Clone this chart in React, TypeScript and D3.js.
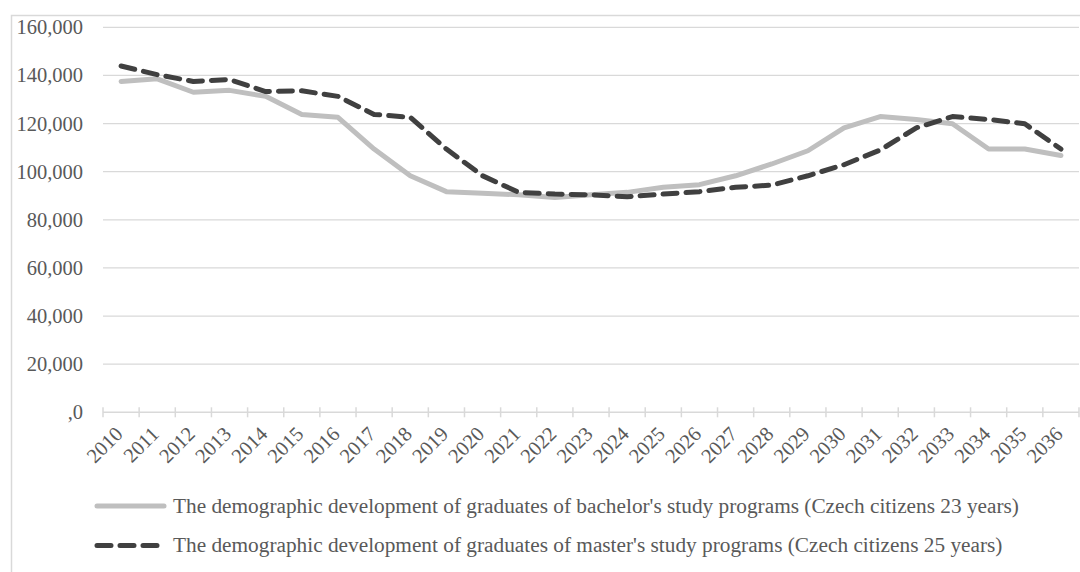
import React from "react";
import * as d3 from "d3";

const years = ["2010","2011","2012","2013","2014","2015","2016","2017","2018","2019","2020","2021","2022","2023","2024","2025","2026","2027","2028","2029","2030","2031","2032","2033","2034","2035","2036"];
const bachelor = [137500,138600,133000,133800,131300,123800,122600,109400,98300,91700,91000,90400,89300,90400,91400,93500,94600,98300,103200,108700,118200,122900,121700,119900,109400,109400,106700];
const master = [143900,140300,137500,138300,133300,133600,131300,123800,122600,109400,98300,91400,90700,90400,89600,90700,91700,93500,94400,98300,102900,109000,118200,122900,121700,119900,109400];
const yTicks = [0,20000,40000,60000,80000,100000,120000,140000,160000];
const legendLabels = [
  "The demographic development of graduates of bachelor's study programs (Czech citizens 23 years)",
  "The demographic development of graduates of master's study programs (Czech citizens 25 years)",
];

const W = 1080, H = 572;
const left = 103, right = 1079, top = 27.3, bottom = 412.3;
const FONT = "'Liberation Serif', 'Times New Roman', serif";
const TXT = "#595959";
const GRID = "#d9d9d9";

export default function App() {
  React.useEffect(() => { document.body.style.margin = "0"; }, []);
  const x = d3.scaleBand<string>().domain(years).range([left, right]).paddingInner(0).paddingOuter(0);
  const y = d3.scaleLinear().domain([0, 160000]).range([bottom, top]);
  const cx = (d: string) => (x(d) as number) + x.bandwidth() / 2;
  const line = d3.line<number>().x((_, i) => cx(years[i])).y((v) => y(v));
  const fmt = (v: number) => (v === 0 ? ",0" : d3.format(",")(v));
  const tickXs = years.map((d) => x(d) as number).concat([right]);

  return (
    <svg width={W} height={H} style={{ position: "absolute", left: 0, top: 0, background: "#fff" }} fontFamily={FONT}>
      <rect x={0} y={0} width={W} height={H} fill="#fff" />
      <path d={`M11.5,${H + 2} V15.5 H${W + 2}`} fill="none" stroke={GRID} strokeWidth={1.5} />
      {yTicks.filter((t) => t > 0).map((t) => (
        <line key={t} x1={left} x2={right} y1={y(t)} y2={y(t)} stroke={GRID} strokeWidth={1.3} />
      ))}
      {yTicks.map((t) => (
        <text key={t} x={83} y={y(t)} dy="0.34em" textAnchor="end" fontSize={20.5} fill={TXT}>{fmt(t)}</text>
      ))}
      <line x1={left} x2={right} y1={bottom} y2={bottom} stroke={GRID} strokeWidth={1.5} />
      {tickXs.map((tx, i) => (
        <line key={i} x1={tx} x2={tx} y1={bottom - 5} y2={bottom + 5} stroke={GRID} strokeWidth={1.5} />
      ))}
      {years.map((d) => (
        <text key={d} transform={`translate(${cx(d) + 3},${bottom + 23}) rotate(-45)`} textAnchor="end" fontSize={20.5} fill={TXT}>{d}</text>
      ))}
      <path d={line(bachelor) as string} fill="none" stroke="#bfbfbf" strokeWidth={5} strokeLinejoin="round" strokeLinecap="round" />
      <path d={line(master) as string} fill="none" stroke="#404040" strokeWidth={5} strokeLinejoin="round" strokeLinecap="round" strokeDasharray="14,9" />
      <line x1={97} x2={164} y1={506} y2={506} stroke="#bfbfbf" strokeWidth={5} strokeLinecap="round" />
      <line x1={97} x2={164} y1={545.5} y2={545.5} stroke="#404040" strokeWidth={5} strokeLinecap="round" strokeDasharray="14,9" />
      <text x={173} y={512.7} fontSize={21.3} fill={TXT}>{legendLabels[0]}</text>
      <text x={173} y={552.2} fontSize={21.3} fill={TXT}>{legendLabels[1]}</text>
    </svg>
  );
}
